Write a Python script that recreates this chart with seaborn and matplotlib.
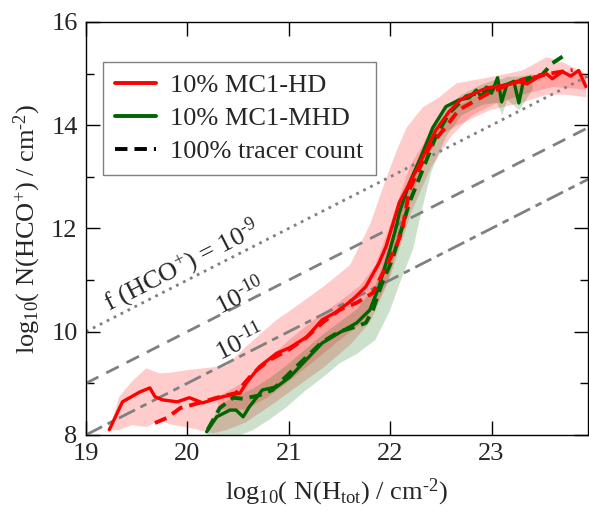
import numpy as np
import pandas as pd
import matplotlib
matplotlib.use("Agg")
import matplotlib.pyplot as plt
import seaborn as sns
from matplotlib.ticker import MultipleLocator
from matplotlib.lines import Line2D

# ---------------- data ----------------
red_x = [19.23, 19.36, 19.53, 19.63, 19.68, 19.75, 19.90, 20.02, 20.15, 20.35, 20.52, 20.58,
         20.71, 20.88, 21.01, 21.18, 21.33, 21.47, 21.63, 21.76, 21.89, 21.96, 22.09, 22.26,
         22.45, 22.58, 22.70, 22.81, 22.95, 23.05, 23.15, 23.27, 23.35, 23.45, 23.54, 23.60,
         23.70, 23.78, 23.86, 23.93]
red_y = [8.10, 8.64, 8.83, 8.91, 8.74, 8.68, 8.64, 8.72, 8.62, 8.74, 8.81, 9.00,
         9.32, 9.58, 9.69, 9.90, 10.23, 10.38, 10.62, 10.87, 11.33, 11.65, 12.50, 13.13,
         13.90, 14.26, 14.50, 14.60, 14.72, 14.75, 14.78, 14.84, 14.80, 14.92, 15.00, 14.90,
         15.04, 14.95, 15.06, 14.75]

red_dash_x = [19.68, 19.80, 19.93, 20.12, 20.29, 20.48, 20.65, 20.81, 21.00, 21.17, 21.33,
              21.50, 21.67, 21.83, 21.96, 22.06, 22.12, 22.19, 22.39, 22.55, 22.68, 22.98,
              23.24, 23.57, 23.80]
red_dash_y = [8.23, 8.33, 8.52, 8.62, 8.72, 8.81, 9.20, 9.45, 9.65, 9.88, 10.17,
              10.42, 10.56, 10.75, 11.26, 11.65, 11.97, 12.75, 13.58, 13.97, 14.30, 14.63,
              14.84, 15.00, 15.07]

green_x = [20.19, 20.29, 20.42, 20.48, 20.55, 20.61, 20.74, 20.88, 21.01, 21.17, 21.33,
           21.50, 21.67, 21.80, 21.89, 21.99, 22.06, 22.09, 22.19, 22.32, 22.42, 22.55,
           22.68, 22.78, 22.85, 22.90, 22.95, 23.00, 23.06, 23.10, 23.15, 23.22, 23.27,
           23.31, 23.40]
green_y = [8.06, 8.35, 8.48, 8.48, 8.35, 8.54, 8.87, 8.93, 9.12, 9.45, 9.78,
           9.98, 10.17, 10.42, 10.87, 11.53, 12.03, 12.30, 12.88, 13.46, 13.95, 14.36,
           14.49, 14.53, 14.68, 14.55, 14.74, 14.62, 14.92, 14.45, 14.78, 14.85, 14.43,
           14.82, 14.90]

green_dash_x = [20.20, 20.32, 20.45, 20.55, 20.70, 20.84, 21.01, 21.17, 21.33, 21.50, 21.67,
                21.76, 21.83, 21.92, 22.02, 22.12, 22.19, 22.32, 22.45, 22.58, 22.75, 22.98,
                23.30, 23.50, 23.60, 23.70]
green_dash_y = [8.10, 8.52, 8.72, 8.70, 8.76, 8.87, 9.20, 9.50, 9.80, 10.00, 10.10,
                10.17, 10.42, 10.94, 11.39, 12.03, 12.50, 13.13, 13.78, 14.23, 14.56, 14.68,
                14.88, 14.98, 15.20, 15.33]

red_band_x = [19.23, 19.32, 19.45, 19.59, 19.72, 19.85, 19.98, 20.25, 20.38, 20.57, 20.87,
              21.01, 21.33, 21.60, 21.80, 21.96, 22.06, 22.16, 22.32, 22.48, 22.65, 22.98,
              23.30, 23.54, 23.73, 23.93]
red_band_hi = [8.10, 8.74, 9.05, 9.30, 9.20, 9.22, 9.26, 9.32, 9.35, 9.71, 10.23,
               10.42, 10.87, 11.30, 12.10, 13.00, 13.52, 13.97, 14.36, 14.55, 14.82, 14.94,
               15.07, 15.33, 15.20, 15.00]
red_band_lo = [8.10, 8.10, 8.20, 8.16, 8.29, 8.20, 8.16, 8.04, 8.10, 8.25, 8.65,
               8.85, 9.30, 9.75, 10.20, 10.90, 11.60, 12.30, 13.30, 13.80, 14.00, 14.30,
               14.45, 14.60, 14.60, 14.55]

red_inner_x = [20.30, 20.57, 20.80, 21.00, 21.25, 21.50, 21.70, 21.85, 22.00, 22.10, 22.20,
               22.40, 22.60, 22.80, 23.00, 23.30, 23.60, 23.93]
red_inner_hi = [8.75, 9.05, 9.50, 9.85, 10.25, 10.60, 10.90, 11.30, 12.10, 12.70, 13.25,
                13.90, 14.30, 14.55, 14.70, 14.90, 15.05, 15.00]
red_inner_lo = [8.50, 8.50, 8.75, 9.05, 9.45, 9.85, 10.15, 10.50, 11.10, 11.70, 12.30,
                13.20, 13.80, 14.20, 14.40, 14.60, 14.75, 14.70]

green_band_x = [20.19, 20.30, 20.45, 20.64, 20.80, 20.97, 21.15, 21.33, 21.50, 21.67, 21.85,
                21.99, 22.10, 22.22, 22.30, 22.40, 22.55, 22.70, 22.90, 23.05, 23.10, 23.15,
                23.27, 23.40]
green_band_hi = [8.06, 8.55, 8.75, 8.90, 9.10, 9.35, 9.65, 9.95, 10.20, 10.45, 10.90,
                 11.70, 12.40, 13.10, 13.50, 13.95, 14.35, 14.60, 14.80, 14.90, 14.90, 14.95,
                 14.95, 15.00]
green_band_lo = [7.90, 7.90, 7.95, 8.10, 8.30, 8.54, 8.85, 9.12, 9.40, 9.58, 9.85,
                 10.40, 11.00, 11.60, 12.30, 13.10, 13.80, 14.20, 14.40, 14.45, 14.20, 14.50,
                 14.30, 14.70]

ref_offsets = [-9, -10, -11]          # log10 abundance lines
ref_labels = [r"f (HCO$^{+}$) = 10$^{\text{-9}}$", r"10$^{\text{-10}}$", r"10$^{\text{-11}}$"]
ref_label_pos = [(19.95, 11.27), (20.52, 10.70), (20.52, 9.80)]

legend_labels = ["10% MC1-HD", "10% MC1-MHD", "100% tracer count"]
x_ticks = [19, 20, 21, 22, 23]
y_ticks = [8, 10, 12, 14, 16]

# ---------------- style ----------------
sns.set_theme(style="ticks")
plt.rcParams["font.family"] = ["Liberation Serif", "DejaVu Serif"]
plt.rcParams["mathtext.fontset"] = "custom"
plt.rcParams["mathtext.rm"] = "Liberation Serif"
plt.rcParams["mathtext.it"] = "Liberation Serif:italic"
plt.rcParams["mathtext.bf"] = "Liberation Serif:bold"
FS = 19

RED = "#ff0000"
GREEN = "#006400"
GRAY = "#808080"

fig = plt.figure(figsize=(5.89, 5.11), dpi=100)
ax = fig.add_axes([0.146, 0.149, 0.852, 0.808])

# bands
ax.fill_between(red_band_x, red_band_lo, red_band_hi, color=RED, alpha=0.2, lw=0)
ax.fill_between(red_inner_x, red_inner_lo, red_inner_hi, color=RED, alpha=0.2, lw=0)
ax.fill_between(green_band_x, green_band_lo, green_band_hi, color=GREEN, alpha=0.2, lw=0)

# reference abundance lines
xr = np.array([19.0, 24.0])
ref_styles = [(0, (1.0, 1.8)), (0, (5.0, 3.2)), (0, (6.5, 2.2, 2.4, 2.2))]
for off, ls in zip(ref_offsets, ref_styles):
    ax.plot(xr, xr + off, color=GRAY, lw=2.0, linestyle=ls, zorder=1)
for txt, (tx, ty) in zip(ref_labels, ref_label_pos):
    ax.text(tx, ty, txt, fontsize=FS, rotation=45, transform_rotates_text=True,
            rotation_mode="anchor", ha="center", va="center", zorder=2)

# curves
df_r = pd.DataFrame({"x": red_x, "y": red_y})
df_rd = pd.DataFrame({"x": red_dash_x, "y": red_dash_y})
df_g = pd.DataFrame({"x": green_x, "y": green_y})
df_gd = pd.DataFrame({"x": green_dash_x, "y": green_dash_y})
sns.lineplot(data=df_r, x="x", y="y", ax=ax, color=RED, lw=2.4, sort=False, zorder=4)
sns.lineplot(data=df_rd, x="x", y="y", ax=ax, color=RED, lw=2.8, sort=False, zorder=4,
             dashes=False, linestyle=(0, (3.2, 1.8)))
sns.lineplot(data=df_g, x="x", y="y", ax=ax, color=GREEN, lw=2.4, sort=False, zorder=3)
sns.lineplot(data=df_gd, x="x", y="y", ax=ax, color=GREEN, lw=2.8, sort=False, zorder=3,
             dashes=False, linestyle=(0, (3.2, 1.8)))

# legend
handles = [Line2D([], [], color=RED, lw=2.8),
           Line2D([], [], color=GREEN, lw=2.8),
           Line2D([], [], color="black", lw=2.8, linestyle=(0, (3.2, 1.8)))]
leg = ax.legend(handles, legend_labels, loc="upper left", bbox_to_anchor=(0.034, 0.903),
                borderaxespad=0, fontsize=FS, frameon=True, fancybox=False,
                edgecolor=GRAY, framealpha=1, handlelength=1.55, handletextpad=0.55,
                labelspacing=0.35, borderpad=0.45)
leg.get_frame().set_linewidth(1.0)

# axes
ax.set_xlim(19, 23.95)
ax.set_ylim(8, 16)
ax.set_xticks(x_ticks)
ax.set_yticks(y_ticks)
ax.yaxis.set_minor_locator(MultipleLocator(1))
ax.tick_params(which="both", direction="in", top=True, right=True, labelsize=FS,
               color="black", width=1.0, pad=6)
ax.tick_params(which="major", length=10)
ax.tick_params(which="minor", length=6)
for s in ax.spines.values():
    s.set_linewidth(1.0)
    s.set_color("black")
ax.set_xlabel(r"log$_{10}$( N(H$_{\rm tot}$) / cm$^{\text{-2}}$)", fontsize=FS, labelpad=8)
ax.set_ylabel(r"log$_{10}$( N(HCO$^{+}$) / cm$^{\text{-2}}$)", fontsize=FS, labelpad=6)

fig.savefig("out.png", dpi=100)
